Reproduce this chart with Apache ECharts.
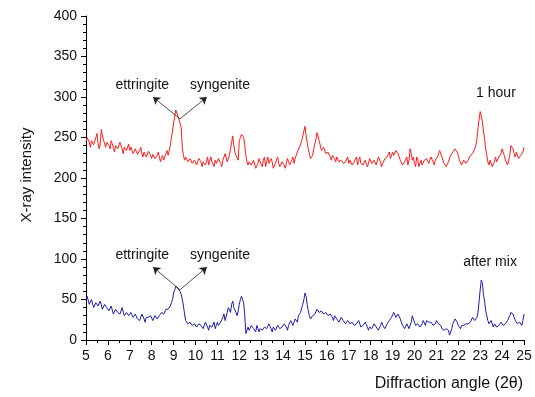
<!DOCTYPE html>
<html>
<head>
<meta charset="utf-8">
<script src="https://cdn.jsdelivr.net/npm/echarts@6/dist/echarts.min.js"></script>
<style>
html, body { margin: 0; padding: 0; background: #fff; }
#chart { width: 535px; height: 397px; }
</style>
</head>
<body>
<div id="chart"></div>
<script>
// 2-theta from 5 to 25, step 0.05 (one row per degree)
var xStart = 5, xStep = 0.05;

var oneHour = [
    245,250,252,244,238,246,248,241,240,250,255,243,236,242,260,252,250,242,238,244,
    244,240,236,246,248,238,232,240,242,236,238,244,246,236,230,238,240,234,236,242,
    234,238,240,230,228,236,236,229,230,234,238,230,226,232,232,226,228,233,234,228,
    224,229,230,224,222,228,232,226,220,225,228,222,226,230,234,228,230,240,250,258,
    268,276,284,285,276,272,270,262,236,228,222,226,226,220,218,224,224,218,216,222,
    224,216,218,224,226,220,214,220,222,216,220,226,216,222,226,220,218,214,222,218,
    220,224,226,218,214,222,224,230,228,220,222,228,236,244,252,240,232,228,226,222,
    246,250,254,256,250,240,228,220,216,220,222,216,214,222,220,212,212,218,224,220,
    218,214,222,226,214,220,226,218,216,224,220,212,212,218,222,226,218,214,214,220,
    220,216,212,218,224,220,216,214,222,226,218,224,228,232,234,238,240,246,252,258,
    264,252,244,236,230,224,222,228,236,242,248,256,256,246,240,234,232,238,238,230,
    228,232,234,226,222,228,230,224,220,226,226,220,218,222,224,218,216,220,222,226,
    218,222,224,216,214,220,222,226,216,222,226,218,220,216,214,222,222,214,218,224,
    224,218,216,222,222,216,218,226,226,220,214,218,220,224,222,226,228,232,224,226,
    232,228,226,234,236,230,230,222,222,216,214,220,220,226,216,222,236,230,222,226,
    218,214,226,222,214,218,222,216,216,222,220,224,224,218,218,226,228,220,216,222,
    222,226,230,234,232,226,224,218,218,214,214,220,220,228,226,232,232,236,238,232,
    228,222,220,216,216,222,224,218,218,222,222,228,226,230,228,236,240,248,262,272,
    282,280,270,258,248,236,228,220,216,222,222,214,214,220,226,220,220,226,224,230,
    236,232,228,222,222,216,218,228,240,242,236,230,226,232,230,224,222,228,228,232,
    238
];

var afterMix = [
    48,54,52,44,42,50,50,40,38,46,46,42,40,48,48,38,36,44,44,40,
    40,36,34,42,42,32,30,38,38,34,36,32,32,40,40,30,28,34,34,30,
    30,34,36,28,26,32,32,26,28,24,24,32,34,26,22,28,30,28,26,30,
    28,24,24,30,32,26,26,30,30,34,36,32,32,38,40,38,38,42,46,50,
    58,62,66,64,64,62,60,56,50,42,32,24,22,20,18,22,24,18,16,20,
    20,16,14,20,22,18,18,14,16,22,24,16,12,18,20,16,18,22,14,18,
    22,18,16,22,20,28,32,24,26,34,40,38,34,44,48,40,38,34,30,36,
    44,50,54,52,46,30,8,12,16,12,12,18,20,14,14,10,18,14,10,14,
    16,12,12,16,18,14,14,20,20,14,10,16,16,12,14,18,18,14,12,16,
    16,20,22,16,12,18,18,24,24,18,20,26,26,22,30,32,34,40,44,50,
    58,54,44,36,30,26,24,30,28,32,34,38,38,34,32,36,36,32,30,34,
    34,30,28,32,32,28,24,30,30,26,26,22,22,28,28,24,24,20,20,24,
    26,20,18,22,22,18,16,20,20,24,24,16,14,18,18,22,20,16,12,16,
    18,14,14,20,20,16,16,12,12,18,22,18,18,14,14,20,20,24,24,28,
    30,34,34,28,26,32,32,26,22,18,18,14,14,20,20,14,12,22,30,28,
    22,18,16,20,20,16,14,20,24,22,18,24,26,22,20,22,22,18,16,20,
    24,22,20,18,18,14,14,12,10,14,16,12,6,10,14,20,22,26,26,22,
    18,16,14,18,20,18,16,20,22,20,18,22,24,28,26,24,22,28,34,48,
    62,74,70,56,48,36,30,24,20,22,24,20,16,20,20,16,14,18,18,22,
    22,18,16,20,20,24,26,30,34,36,32,28,24,22,20,22,22,20,18,24,
    32
];

function pairs(vals) {
    return vals.map(function (v, i) {
        return [+(xStart + i * xStep).toFixed(2), v];
    });
}

var font = 'Liberation Sans, Arial, sans-serif';

// two arrows from the 9.3 peak out to the phase names
function peakNotes(peakY, tipY) {
    return {
        symbol: ['none', 'arrow'],
        symbolSize: 7,
        silent: true,
        lineStyle: { color: '#222', width: 0.8, type: 'solid' },
        label: { show: false },
        data: [
            [{ coord: [9.29, peakY] }, { coord: [8.06, tipY] }],
            [{ coord: [9.29, peakY] }, { coord: [10.52, tipY] }]
        ]
    };
}

function textMarks(textY, label, labelX, labelY) {
    return {
        symbol: 'circle',
        symbolSize: 0,
        silent: true,
        label: {
            show: true,
            position: 'inside',
            formatter: '{b}',
            color: '#111',
            fontSize: 14,
            fontFamily: font
        },
        data: [
            { name: 'ettringite', coord: [7.57, textY] },
            { name: 'syngenite', coord: [11.12, textY] },
            { name: label, coord: [labelX, labelY] }
        ]
    };
}

var chart = echarts.init(document.getElementById('chart'));

var option = {
    animation: false,
    grid: { left: 86, right: 11, top: 16, bottom: 57 },
    xAxis: {
        type: 'value',
        min: 5,
        max: 25,
        interval: 1,
        splitLine: { show: false },
        axisLine: { lineStyle: { color: '#000', width: 1 } },
        axisTick: { length: 5, lineStyle: { color: '#000' } },
        minorTick: { show: true, splitNumber: 2, length: 3, lineStyle: { color: '#000' } },
        axisLabel: { color: '#111', fontSize: 14, fontFamily: font, margin: 9 }
    },
    yAxis: {
        type: 'value',
        min: 0,
        max: 400,
        interval: 50,
        splitLine: { show: false },
        axisLine: { show: true, lineStyle: { color: '#000', width: 1 } },
        axisTick: { show: true, length: 5, lineStyle: { color: '#000' } },
        minorTick: { show: true, splitNumber: 5, length: 3, lineStyle: { color: '#000' } },
        axisLabel: { color: '#111', fontSize: 14, fontFamily: font, margin: 9 }
    },
    series: [
        {
            name: '1 hour',
            type: 'line',
            data: pairs(oneHour),
            showSymbol: false,
            lineStyle: { color: '#ff1a1a', width: 1 },
            itemStyle: { color: '#ff1a1a' },
            markLine: peakNotes(273, 300),
            markPoint: textMarks(315, '1 hour', 23.72, 305)
        },
        {
            name: 'after mix',
            type: 'line',
            data: pairs(afterMix),
            showSymbol: false,
            lineStyle: { color: '#1c1ca8', width: 1 },
            itemStyle: { color: '#1c1ca8' },
            markLine: peakNotes(62, 90),
            markPoint: textMarks(105, 'after mix', 23.45, 96)
        }
    ],
    graphic: [
        {
            type: 'text',
            x: 27,
            y: 175,
            rotation: Math.PI / 2,
            style: {
                text: 'X-ray intensity',
                fill: '#111',
                font: '15px ' + font,
                textAlign: 'center',
                textVerticalAlign: 'middle'
            }
        },
        {
            type: 'text',
            right: 12,
            top: 376,
            style: {
                text: 'Diffraction angle (2θ)',
                fill: '#111',
                font: '16px ' + font
            }
        }
    ]
};

chart.setOption(option);

window.onresize = function () {
    chart.resize();
};
</script>
</body>
</html>
